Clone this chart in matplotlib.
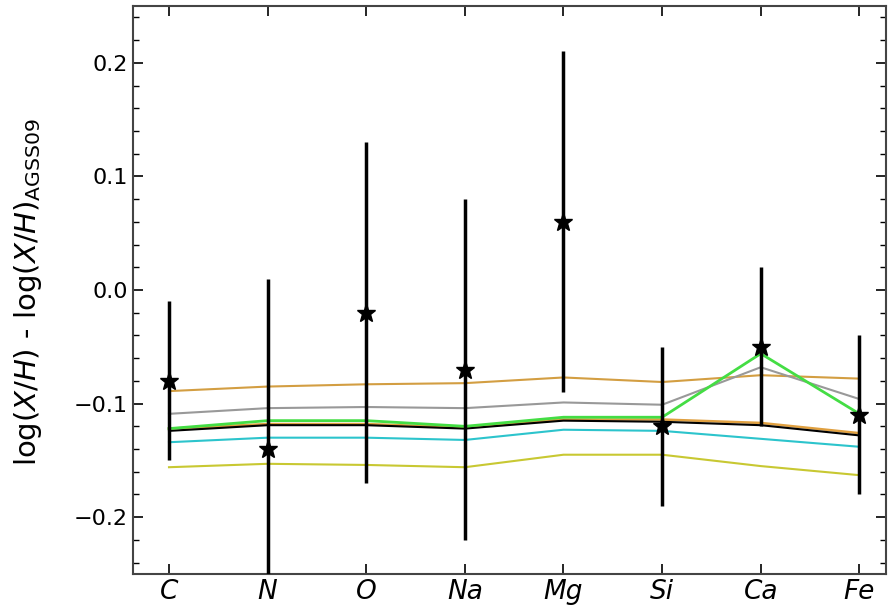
import matplotlib
matplotlib.use("Agg")
import matplotlib.pyplot as plt
from matplotlib.ticker import MultipleLocator

elements = ["C", "N", "O", "Na", "Mg", "Si", "Ca", "Fe"]
obs = [-0.08, -0.14, -0.02, -0.07, 0.06, -0.12, -0.05, -0.11]
obs_err = [0.07, 0.15, 0.15, 0.15, 0.15, 0.07, 0.07, 0.07]

model_orange = [-0.089, -0.085, -0.083, -0.082, -0.077, -0.081, -0.075, -0.078]
model_gray = [-0.109, -0.104, -0.103, -0.104, -0.099, -0.101, -0.068, -0.096]
model_green = [-0.122, -0.115, -0.115, -0.120, -0.112, -0.112, -0.056, -0.109]
model_orange2 = [-0.122, -0.118, -0.118, -0.121, -0.114, -0.114, -0.117, -0.126]
model_black = [-0.124, -0.119, -0.119, -0.122, -0.115, -0.116, -0.119, -0.128]
model_cyan = [-0.134, -0.130, -0.130, -0.132, -0.123, -0.124, -0.131, -0.138]
model_yellow = [-0.156, -0.153, -0.154, -0.156, -0.145, -0.145, -0.155, -0.163]

fig = plt.figure(figsize=(8.88, 6.10), dpi=100)
ax = fig.add_axes([133/888, 36/610, (886-133)/888, (574-6)/610])

x = list(range(len(elements)))
ax.plot(x, model_orange, color="#d39e42", lw=1.5)
ax.plot(x, model_gray, color="#999999", lw=1.5)
ax.plot(x, model_orange2, color="#e0a040", lw=1.8)
ax.plot(x, model_black, color="black", lw=1.5)
ax.plot(x, model_cyan, color="#2cc4cc", lw=1.5)
ax.plot(x, model_yellow, color="#c8c832", lw=1.5)
ax.plot(x, model_green, color="#44dd44", lw=2.0)

ax.errorbar(x, obs, yerr=obs_err, fmt="none", ecolor="black", elinewidth=2.5, capsize=0, zorder=5)
ax.plot(x, obs, linestyle="none", marker="*", color="black", markersize=14, zorder=6)

ax.set_xlim(-0.365, 7.27)
ax.set_ylim(-0.25, 0.25)
ax.set_xticks(x)
ax.set_xticklabels(elements, fontsize=19, fontstyle="italic")
ax.yaxis.set_major_locator(MultipleLocator(0.1))
ax.yaxis.set_minor_locator(MultipleLocator(0.02))
ax.tick_params(axis="y", labelsize=16)
ax.tick_params(which="both", direction="in", top=True, right=True)
ax.tick_params(which="major", length=7, width=1.2)
ax.tick_params(which="minor", length=4, width=1.0)
ax.set_ylabel(r"log($X/H$) - log($X/H$)$_{\rm AGSS09}$", fontsize=21)
ax.yaxis.set_label_coords(-0.118, 0.496)
for s in ax.spines.values():
    s.set_linewidth(1.5)
    s.set_color("#444444")

fig.savefig("out.png", dpi=100)
